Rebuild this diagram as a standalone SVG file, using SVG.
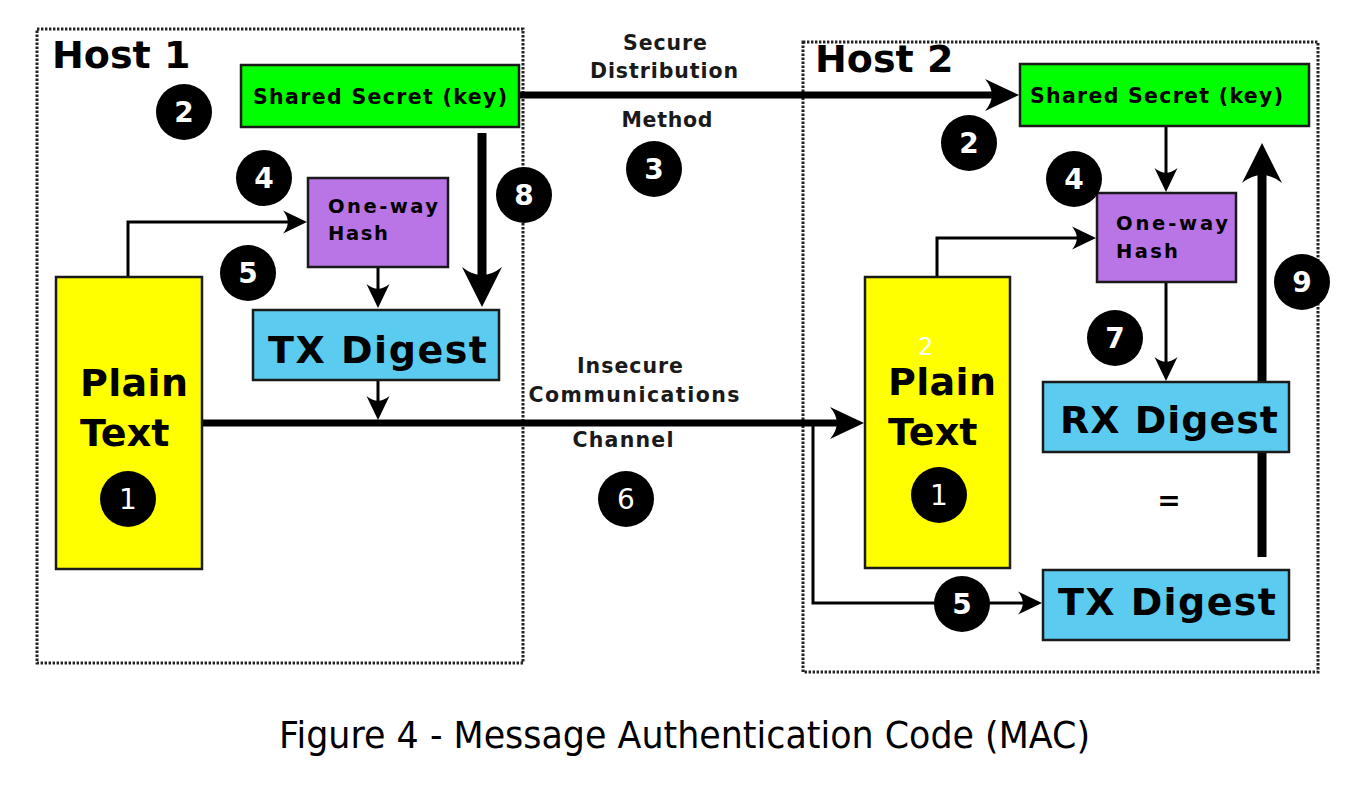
<svg xmlns="http://www.w3.org/2000/svg" width="1347" height="791" viewBox="0 0 1347 791">
<style>
.host{fill:none;stroke:#222;stroke-width:3;stroke-dasharray:2.4 1.6}
.box{stroke:#1a1a1a;stroke-width:2.5}
.green{fill:#00ff00}.purple{fill:#b974e6}.blue{fill:#5bcbef}.yellow{fill:#ffff00}
.b{font-family:"DejaVu Sans",sans-serif;font-weight:bold;fill:#000}
.big{font-size:38px}
.small{font-size:20.5px}
.med{font-size:19.5px}
.lbl{font-size:20.5px;fill:#1a1a1a;text-anchor:middle}
.num{font-family:"DejaVu Sans",sans-serif;font-size:28px;fill:#fff;text-anchor:middle}
.thin{fill:none;stroke:#000;stroke-width:3}
.mid{fill:none;stroke:#000;stroke-width:7}
.thick{fill:none;stroke:#000;stroke-width:9}
</style>
<defs>
<marker id="aThin" markerUnits="userSpaceOnUse" orient="auto" refX="0" refY="0" markerWidth="60" markerHeight="60" overflow="visible"><path d="M12,0 L-12,-11.5 Q-2.4,0 -12,11.5 Z" fill="#000"/></marker>
<marker id="aMid" markerUnits="userSpaceOnUse" orient="auto" refX="0" refY="0" markerWidth="80" markerHeight="80" overflow="visible"><path d="M17,0 L-17,-16 Q-3.4,0 -17,16 Z" fill="#000"/></marker>
<marker id="aThick" markerUnits="userSpaceOnUse" orient="auto" refX="0" refY="0" markerWidth="90" markerHeight="90" overflow="visible"><path d="M20,0 L-20,-20 Q-4,0 -20,20 Z" fill="#000"/></marker>
</defs>
<rect width="1347" height="791" fill="#fff"/>

<g id="host1"><rect class="host" x="37" y="29" width="486" height="634"/><text class="b big" x="52" y="68">Host 1</text></g>
<g id="host2"><rect class="host" x="803" y="42" width="515" height="630"/><text class="b big" x="815" y="72">Host 2</text></g>

<g id="connectors">
<path class="thin" d="M128,277 V222 H295" marker-end="url(#aThin)"/>
<path class="thin" d="M378,267 V296" marker-end="url(#aThin)"/>
<path class="thick" d="M482,133 V287" marker-end="url(#aThick)"/>
<path class="thin" d="M378,380 V408" marker-end="url(#aThin)"/>
<path class="mid" d="M202,423 H847" marker-end="url(#aMid)"/>
<path class="mid" d="M519,95 H1002" marker-end="url(#aMid)"/>
<path class="thin" d="M813,423 V603 H1030" marker-end="url(#aThin)"/>
<path class="thin" d="M937,277 V238 H1084" marker-end="url(#aThin)"/>
<path class="thin" d="M1166,126 V180" marker-end="url(#aThin)"/>
<path class="thin" d="M1166,282 V369" marker-end="url(#aThin)"/>
<path class="thick" d="M1262,557 V163" marker-end="url(#aThick)"/>
</g>

<g id="secret1"><rect class="box green" x="241" y="65" width="278" height="62"/><text class="b small" x="253" y="104" textLength="254" lengthAdjust="spacing">Shared Secret (key)</text></g>
<g id="hash1"><rect class="box purple" x="308" y="178" width="140" height="89"/><text class="b med" x="328" y="213" textLength="110" lengthAdjust="spacing">One-way</text><text class="b med" x="328" y="240" textLength="60" lengthAdjust="spacing">Hash</text></g>
<g id="txdigest1"><rect class="box blue" x="253" y="310" width="246" height="70"/><text class="b big" x="268" y="363" textLength="219" lengthAdjust="spacing">TX Digest</text></g>
<g id="plain1"><rect class="box yellow" x="56" y="277" width="146" height="292"/><text class="b big" x="80" y="396" textLength="108" lengthAdjust="spacing">Plain</text><text class="b big" x="80" y="446">Text</text></g>

<g id="secret2"><rect class="box green" x="1020" y="64" width="289" height="62"/><text class="b small" x="1030" y="103" textLength="253" lengthAdjust="spacing">Shared Secret (key)</text></g>
<g id="hash2"><rect class="box purple" x="1097" y="193" width="139" height="89"/><text class="b med" x="1116" y="230" textLength="112" lengthAdjust="spacing">One-way</text><text class="b med" x="1116" y="258" textLength="62" lengthAdjust="spacing">Hash</text></g>
<g id="plain2"><rect class="box yellow" x="865" y="277" width="145" height="291"/><text x="918" y="355" font-family="DejaVu Sans, sans-serif" font-size="24" fill="#fff">2</text><text class="b big" x="888" y="395" textLength="108" lengthAdjust="spacing">Plain</text><text class="b big" x="888" y="445">Text</text></g>
<g id="rxdigest"><rect class="box blue" x="1043" y="382" width="246" height="70"/><text class="b big" x="1060" y="433" textLength="218" lengthAdjust="spacing">RX Digest</text></g>
<g id="txdigest2"><rect class="box blue" x="1043" y="570" width="246" height="70"/><text class="b big" x="1058" y="615" textLength="218" lengthAdjust="spacing">TX Digest</text></g>
<g id="equals"><text class="b" x="1169" y="510" font-size="28" text-anchor="middle">=</text></g>

<g id="label-secure"><text class="b lbl" x="665" y="50" textLength="84" lengthAdjust="spacing">Secure</text><text class="b lbl" x="664" y="78" textLength="148" lengthAdjust="spacing">Distribution</text><text class="b lbl" x="667" y="127" textLength="91" lengthAdjust="spacing">Method</text></g>
<g id="label-insecure"><text class="b lbl" x="630" y="373" textLength="106" lengthAdjust="spacing">Insecure</text><text class="b lbl" x="634" y="402" textLength="211" lengthAdjust="spacing">Communications</text><text class="b lbl" x="623" y="447" textLength="101" lengthAdjust="spacing">Channel</text></g>

<g id="markers">
<g id="n1a"><circle cx="128" cy="499" r="28"/><text class="num" x="128" y="509">1</text></g>
<g id="n2a"><circle cx="184" cy="112" r="28"/><text class="num" x="184" y="122" font-weight="bold">2</text></g>
<g id="n4a"><circle cx="264" cy="178" r="28"/><text class="num" x="264" y="188" font-weight="bold">4</text></g>
<g id="n5a"><circle cx="248" cy="273" r="28"/><text class="num" x="248" y="283" font-weight="bold">5</text></g>
<g id="n8"><circle cx="524" cy="195" r="28"/><text class="num" x="524" y="205" font-weight="bold">8</text></g>
<g id="n3"><circle cx="654" cy="169" r="28"/><text class="num" x="654" y="179" font-weight="bold">3</text></g>
<g id="n6"><circle cx="626" cy="499" r="28"/><text class="num" x="626" y="509">6</text></g>
<g id="n2b"><circle cx="969" cy="143" r="28"/><text class="num" x="969" y="153" font-weight="bold">2</text></g>
<g id="n4b"><circle cx="1074" cy="179" r="28"/><text class="num" x="1074" y="189" font-weight="bold">4</text></g>
<g id="n9"><circle cx="1302" cy="282" r="28"/><text class="num" x="1302" y="292" font-weight="bold">9</text></g>
<g id="n7"><circle cx="1115" cy="338" r="28"/><text class="num" x="1115" y="348" font-weight="bold">7</text></g>
<g id="n1b"><circle cx="939" cy="495" r="28"/><text class="num" x="939" y="505">1</text></g>
<g id="n5b"><circle cx="962" cy="604" r="28"/><text class="num" x="962" y="614" font-weight="bold">5</text></g>
</g>

<g id="caption"><text x="279" y="748" font-family="DejaVu Sans, sans-serif" font-size="38" fill="#000" textLength="811" lengthAdjust="spacingAndGlyphs">Figure 4 - Message Authentication Code (MAC)</text></g>
</svg>
